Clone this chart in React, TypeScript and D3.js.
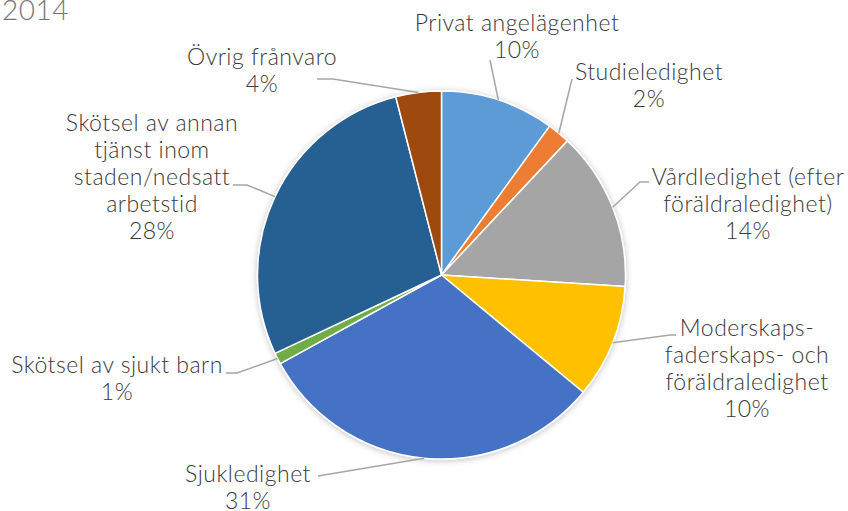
import React, { useEffect, useRef } from "react";
import * as d3 from "d3";

const title = "2014";
const categories = [
    "Privat angelägenhet",
    "Studieledighet",
    "Vårdledighet (efter föräldraledighet)",
    "Moderskaps- faderskaps- och föräldraledighet",
    "Sjukledighet",
    "Skötsel av sjukt barn",
    "Skötsel av annan tjänst inom staden/nedsatt arbetstid",
    "Övrig frånvaro"
];
const values = [10, 2, 14, 10, 31, 1, 28, 4];
const sliceColors = ["#5B9BD5", "#ED7D31", "#A5A5A5", "#FFC000", "#4472C4", "#70AD47", "#255E91", "#9E480E"];

// how each category label wraps
const labelLines = [
    ["Privat angelägenhet"],
    ["Studieledighet"],
    ["Vårdledighet (efter", "föräldraledighet)"],
    ["Moderskaps-", "faderskaps- och", "föräldraledighet"],
    ["Sjukledighet"],
    ["Skötsel av sjukt barn"],
    ["Skötsel av annan", "tjänst inom", "staden/nedsatt", "arbetstid"],
    ["Övrig frånvaro"]
];

// layout: label centre (x, first line y) and leader line start points
const labelAnchor = [
    [517, 23], [649, 72], [748, 177], [747, 328],
    [248, 474], [117, 365], [152, 123], [262, 57]
];
const leaderStart = [
    [[490, 60]],
    [[572, 79]],
    [[649, 182], [640, 182]],
    [[676, 335], [670, 335]],
    [[318, 476]],
    [[226, 373], [237, 373]],
    [[233, 185], [247, 185]],
    [[317, 79], [333, 79]]
];

const width = 848;
const height = 511;
const cx = 441.5;
const cy = 275;
const radius = 184;
const lineHeight = 27;
const font = "Lato, 'Open Sans', sans-serif";

const App = () => {
    const ref = useRef(null);

    useEffect(() => {
        const svg = d3.select(ref.current);
        svg.selectAll("*").remove();

        const data = categories.map((c, i) => ({ name: c, value: values[i], i }));
        const pie = d3.pie().value(d => d.value).sort(null);
        const arc = d3.arc().innerRadius(0).outerRadius(radius);
        const arcs = pie(data);
        const total = d3.sum(values);

        const defs = svg.append("defs");
        const filter = defs.append("filter").attr("id", "shadow")
            .attr("x", "-10%").attr("y", "-10%").attr("width", "120%").attr("height", "120%");
        filter.append("feDropShadow")
            .attr("dx", 0).attr("dy", 1).attr("stdDeviation", 3)
            .attr("flood-color", "#000").attr("flood-opacity", 0.25);

        svg.append("text")
            .attr("x", 2)
            .attr("y", 20)
            .style("font-family", font)
            .style("font-weight", 300)
            .style("font-size", "28px")
            .style("letter-spacing", "0.5px")
            .style("fill", "#767676")
            .text(title);

        const g = svg.append("g").attr("transform", `translate(${cx},${cy})`);
        g.append("g").attr("filter", "url(#shadow)")
            .selectAll("path")
            .data(arcs)
            .enter()
            .append("path")
            .attr("d", arc)
            .attr("fill", d => sliceColors[d.data.i])
            .attr("stroke", "#fff")
            .attr("stroke-width", 1.5)
            .attr("stroke-linejoin", "round");

        // leader lines
        const line = d3.line();
        arcs.forEach(d => {
            const mid = (d.startAngle + d.endAngle) / 2;
            const end = [cx + radius * Math.sin(mid), cy - radius * Math.cos(mid)];
            const pts = leaderStart[d.data.i].concat([end]);
            svg.append("path")
                .attr("d", line(pts))
                .attr("fill", "none")
                .attr("stroke", "#A6A6A6")
                .attr("stroke-width", 1.5);
        });

        // labels
        arcs.forEach(d => {
            const i = d.data.i;
            const [lx, ly] = labelAnchor[i];
            const lines = labelLines[i].concat([`${Math.round(d.data.value / total * 100)}%`]);
            const t = svg.append("text")
                .attr("text-anchor", "middle")
                .style("font-family", font)
                .style("font-weight", 300)
                .style("font-size", "23px")
                .style("letter-spacing", "0.5px")
                .style("fill", "#3a3a3a");
            lines.forEach((s, k) => {
                t.append("tspan")
                    .attr("x", lx)
                    .attr("y", ly + k * lineHeight)
                    .attr("dy", "0.35em")
                    .text(s);
            });
        });
    }, []);

    return (
        <svg
            ref={ref}
            width={width}
            height={height}
            style={{ position: "absolute", left: 0, top: 0, background: "#fff" }}
        />
    );
};

export default App;
